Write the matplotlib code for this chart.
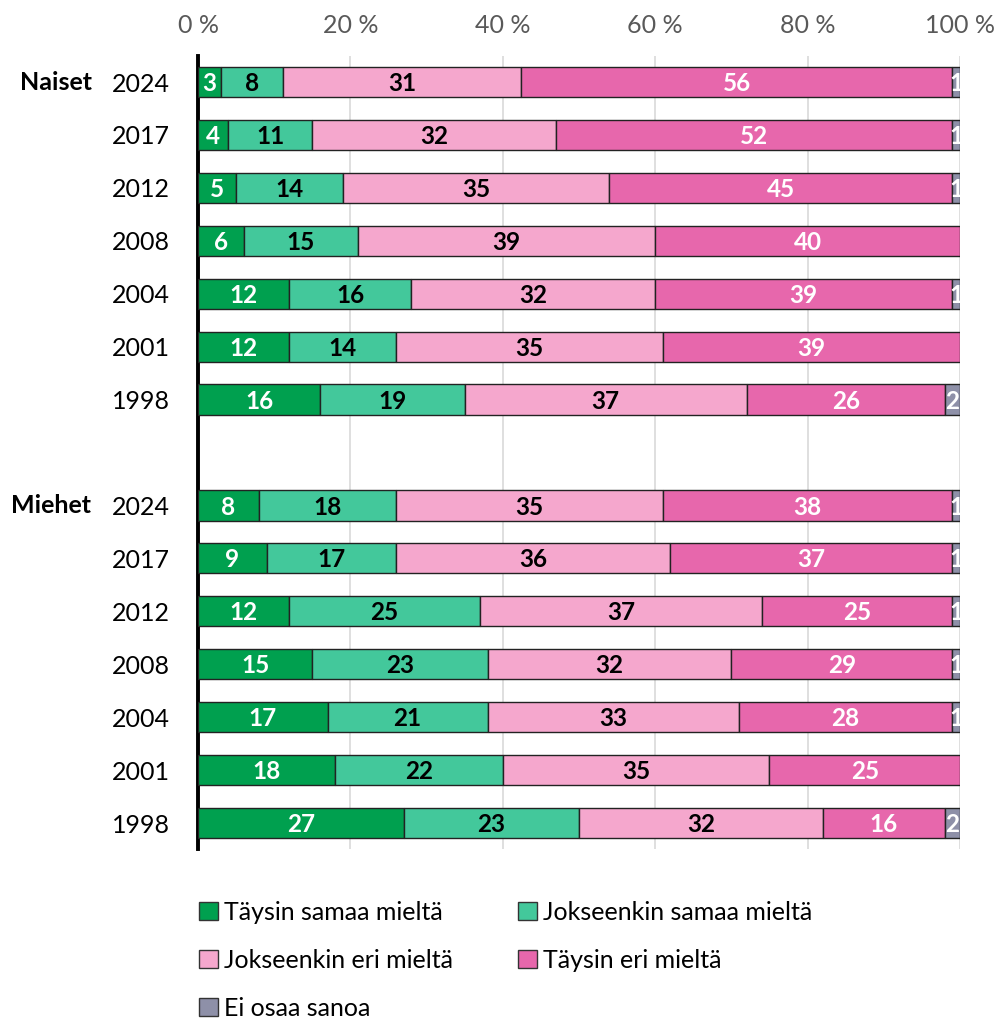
import numpy as np
import matplotlib.pyplot as plt
from matplotlib.patches import Patch

plt.rcParams['font.family'] = ['Lato', 'DejaVu Sans']

# ---- data ----
years = ['2024', '2017', '2012', '2008', '2004', '2001', '1998']
groups = ['Naiset', 'Miehet']
categories = ['Täysin samaa mieltä', 'Jokseenkin samaa mieltä',
              'Jokseenkin eri mieltä', 'Täysin eri mieltä', 'Ei osaa sanoa']

naiset_taysin_samaa = [3, 4, 5, 6, 12, 12, 16]
naiset_jokseenkin_samaa = [8, 11, 14, 15, 16, 14, 19]
naiset_jokseenkin_eri = [31, 32, 35, 39, 32, 35, 37]
naiset_taysin_eri = [56, 52, 45, 40, 39, 39, 26]
naiset_eos = [1, 1, 1, 0, 1, 0, 2]

miehet_taysin_samaa = [8, 9, 12, 15, 17, 18, 27]
miehet_jokseenkin_samaa = [18, 17, 25, 23, 21, 22, 23]
miehet_jokseenkin_eri = [35, 36, 37, 32, 33, 35, 32]
miehet_taysin_eri = [38, 37, 25, 29, 28, 25, 16]
miehet_eos = [1, 1, 1, 1, 1, 0, 2]

colors = ['#00a04f', '#43c89b', '#f5a7cd', '#e767ac', '#8e90a8']
text_colors = ['white', 'black', 'black', 'white', 'white']

# ---- build rows ----
naiset = np.array([naiset_taysin_samaa, naiset_jokseenkin_samaa,
                   naiset_jokseenkin_eri, naiset_taysin_eri, naiset_eos], float).T
miehet = np.array([miehet_taysin_samaa, miehet_jokseenkin_samaa,
                   miehet_jokseenkin_eri, miehet_taysin_eri, miehet_eos], float).T

rows = list(naiset) + list(miehet)
ypos = list(range(7)) + list(range(8, 15))

fig = plt.figure(figsize=(9.98, 10.21), dpi=100)
ax = fig.add_axes([0.1984, 0.168, 0.7635, 0.7776])

bar_h = 0.57
for y, vals in zip(ypos, rows):
    widths = vals / vals.sum() * 100   # bars fill 100 %
    left = 0
    for k, (v, w) in enumerate(zip(vals, widths)):
        if v > 0:
            ax.barh(y, w, left=left, height=bar_h, color=colors[k],
                    edgecolor='#222222', linewidth=1.0, zorder=3)
            ax.text(left + w / 2, y + 0.03, f'{int(v)}', ha='center', va='center',
                    color=text_colors[k], fontsize=17.5, fontweight='bold', zorder=4)
        left += w

ax.set_xlim(0, 100)
ax.set_ylim(14.5, -0.5)
ax.set_xticks([0, 20, 40, 60, 80, 100])
ax.set_xticklabels(['0 %', '20 %', '40 %', '60 %', '80 %', '100 %'])
ax.xaxis.tick_top()
ax.tick_params(axis='x', length=0, labelsize=18, labelcolor='#595959', pad=13)
ax.set_yticks(ypos)
ax.set_yticklabels(years + years)
ax.tick_params(axis='y', length=0, labelsize=18, pad=20)
ax.grid(axis='x', color='#d9d9d9', linewidth=1.2, zorder=0)
for s in ['top', 'right', 'bottom']:
    ax.spines[s].set_visible(False)
ax.spines['left'].set_linewidth(2.8)
ax.spines['left'].set_color('black')

# group labels
ax.text(-0.233, 0, groups[0], transform=ax.get_yaxis_transform(), ha='left',
        va='center', fontsize=18, fontweight='bold')
ax.text(-0.245, 8, groups[1], transform=ax.get_yaxis_transform(), ha='left',
        va='center', fontsize=18, fontweight='bold')

# legend (row-major order)
handles = [Patch(facecolor=c, edgecolor='#333333', linewidth=1) for c in colors]
order = [0, 2, 4, 1, 3]
fig.legend([handles[i] for i in order], [categories[i] for i in order],
           ncol=2, loc='upper left', bbox_to_anchor=(0.177, 0.14),
           frameon=False, fontsize=18, handlelength=0.75, handleheight=0.75,
           handletextpad=0.25, labelspacing=1.0, columnspacing=2.6)

plt.savefig('out.png', dpi=100)
